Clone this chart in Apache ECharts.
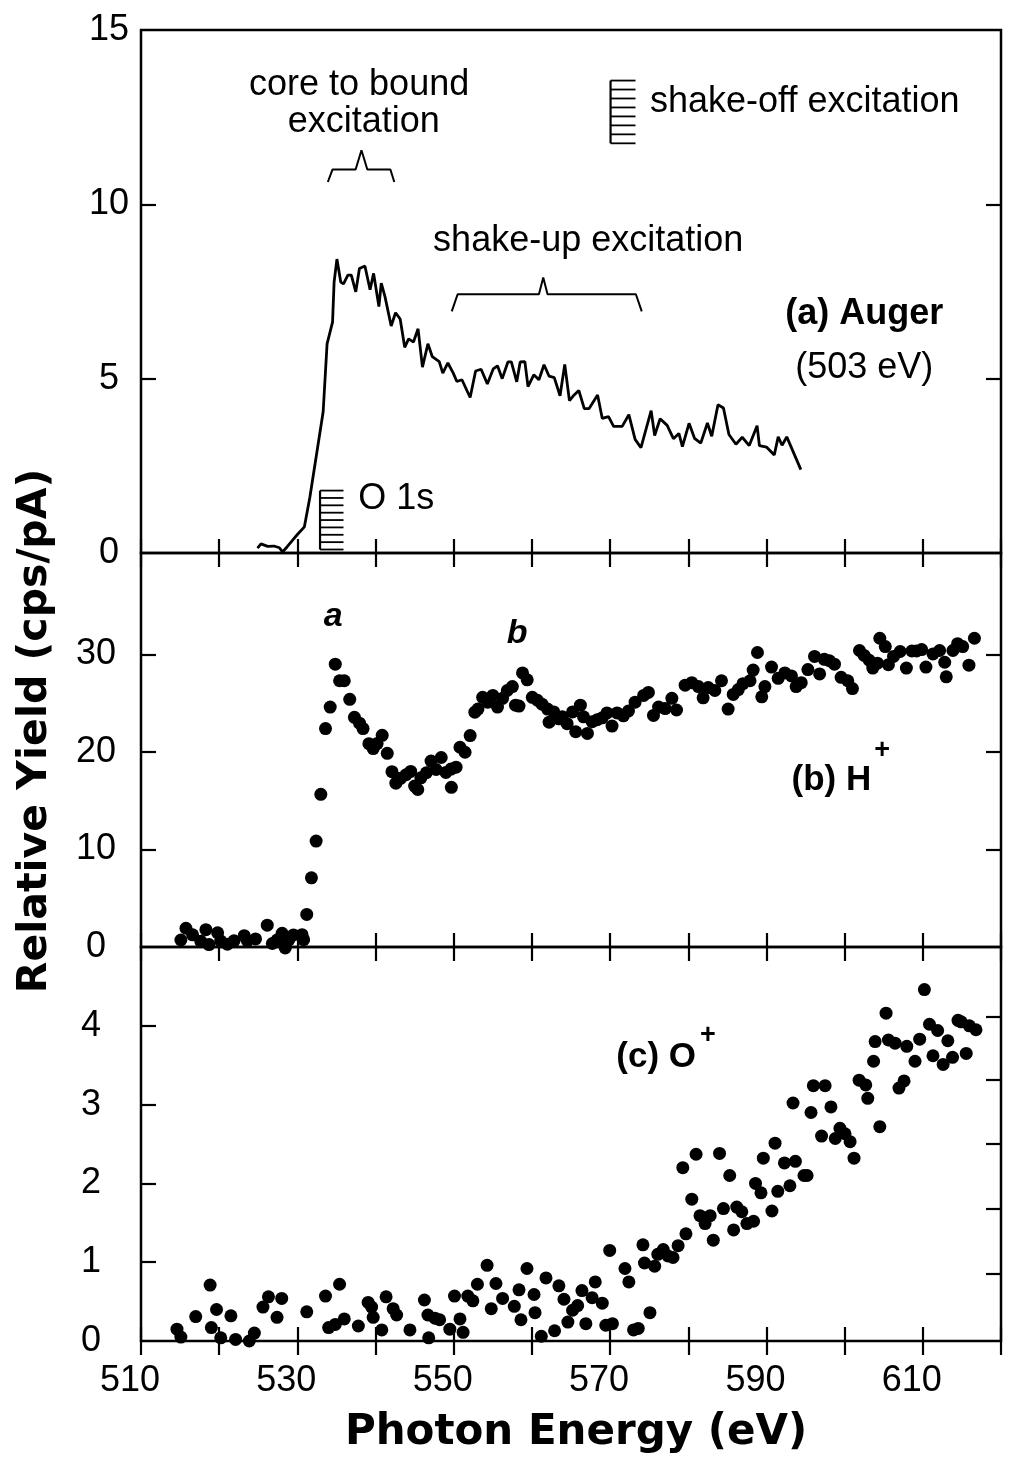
<!DOCTYPE html>
<html>
<head>
<meta charset="utf-8">
<script src="https://cdn.jsdelivr.net/npm/echarts@6/dist/echarts.min.js"></script>
<style>html,body{margin:0;padding:0;background:#fff;}#chart{width:1013px;height:1461px;}</style>
</head>
<body>
<div id="chart"></div>
<script>
// ---------- data ----------
const xTickLabels = [510, 530, 550, 570, 590, 610];
const yTicksA = [0, 5, 10, 15];
const yTicksB = [0, 10, 20, 30];
const yTicksC = [0, 1, 2, 3, 4];
const rightTicksC = [0.85, 1.68, 2.5, 3.32, 4.12];

// (a) Auger yield (line)
const augerE = [524.9,525.35,526.2,527.0,527.7,528.1,528.7,529.4,530.0,530.9,531.6,533.3,533.8,534.5,534.7,535.06,
535.55,535.9,536.46,536.9,537.47,537.94,538.64,539.3,539.75,540.43,540.73,541.2,542.0,542.56,543.15,543.73,544.23,544.85,545.44,546.0,
546.7,547.26,548.15,548.6,549.25,549.94,550.4,551.05,552.1,552.8,553.5,554.3,555.05,555.6,556.2,556.93,557.37,558.06,558.5,559.1,
559.5,560.24,560.9,561.55,562.2,562.86,563.6,564.2,564.8,565.3,566.0,566.7,567.3,568.4,569.0,569.8,570.45,571.55,572.4,573.2,
573.95,575.25,575.7,576.4,577.3,578.1,578.8,579.25,580.1,580.8,581.6,582.45,583.0,583.8,584.5,585.2,586.1,586.9,587.8,588.8,
589.1,590.0,591.0,591.5,592.0,592.6,594.4];
const augerV = [0.14,0.26,0.19,0.2,0.15,0.03,0.18,0.37,0.53,0.75,1.6,4.05,6.0,6.62,7.77,8.43,
7.77,7.72,7.97,7.97,7.49,8.16,8.23,7.55,8.02,7.07,7.74,7.36,6.51,6.89,6.71,5.9,6.14,6.05,6.43,5.33,
6.0,5.63,5.49,5.16,5.45,5.16,4.92,4.97,4.46,5.22,5.27,4.85,5.28,5.37,5.0,5.48,5.48,4.91,5.48,5.49,
4.77,5.11,4.97,5.4,5.07,5.03,4.51,5.41,4.37,4.51,4.66,4.14,4.14,4.53,3.86,3.91,3.63,3.63,3.97,3.26,
3.02,4.08,3.37,3.85,3.66,3.28,3.43,3.05,3.72,3.29,3.15,3.73,3.35,4.25,4.16,3.4,3.12,3.32,3.08,3.65,
3.08,3.04,2.81,3.33,3.09,3.33,2.39];

// (b) H+ yield (points)
const hE = [515.1,515.75,516.6,517.65,518.3,518.7,519.8,520.2,521.05,521.9,523.2,523.6,524.65,526.15,526.8,527.4,528.05,528.45,528.9,529.5,
530.6,530.8,531.2,531.8,532.4,533.0,533.6,534.2,534.85,535.4,536.0,536.7,537.3,537.95,538.4,539.15,539.7,540.2,540.85,541.5,
542.1,542.6,543.2,543.9,544.5,545.0,545.4,545.8,546.5,547.1,547.75,548.4,549.0,549.65,549.7,550.3,550.8,551.45,552.1,552.7,
553.1,553.7,554.35,555.0,555.6,556.25,556.85,557.5,557.9,558.35,558.8,559.4,560.05,560.7,561.3,562.0,562.2,562.8,563.45,563.9,
564.5,565.2,565.6,566.2,566.6,567.1,567.7,568.35,569.0,569.6,570.25,570.9,571.7,572.35,573.2,574.3,574.9,575.55,576.2,577.05,
577.9,578.5,579.6,580.45,581.3,581.9,582.55,583.4,584.25,585.1,585.75,586.4,587.0,587.9,588.3,588.85,589.4,589.8,590.65,591.5,
592.35,593.2,593.8,594.45,595.3,596.15,596.8,597.4,598.05,598.7,599.55,600.4,601.0,601.9,602.5,603.15,603.6,604.2,604.5,605.2,
605.6,606.25,607.1,607.9,608.6,609.2,609.85,610.4,611.3,612.15,612.8,613.0,613.85,614.45,615.1,615.9,616.6];
const hV = [0.72,1.92,1.25,0.58,1.78,0.25,1.46,0.61,0.28,0.64,1.16,0.65,0.83,2.24,0.36,0.71,1.4,-0.1,0.73,1.24,
1.26,0.75,3.34,7.09,10.86,15.65,22.4,24.6,29.0,27.3,27.3,25.4,23.55,22.95,22.4,20.85,20.35,20.86,21.7,19.86,
17.98,16.8,17.3,17.66,18.0,16.5,16.15,17.35,17.87,19.06,18.2,19.43,17.9,18.24,16.37,18.44,20.48,19.97,21.68,24.08,
24.4,25.6,25.1,25.8,24.6,25.5,26.3,26.7,24.8,24.7,28.1,27.4,25.6,25.3,24.9,24.4,23.05,24.1,23.4,23.6,
22.9,24.1,22.07,24.8,23.6,21.9,23.1,23.3,23.5,24.0,22.65,24.0,23.7,24.2,25.1,25.8,26.1,23.75,24.6,24.45,
25.5,24.3,26.85,27.1,26.7,25.55,26.6,26.3,27.3,24.4,25.9,26.4,27.0,27.3,28.4,30.2,25.65,26.7,28.7,27.55,
28.1,27.8,26.7,27.1,28.45,29.8,28.0,29.5,29.35,29.0,27.65,27.3,26.5,30.4,29.9,29.4,28.6,29.1,31.66,30.8,
28.95,29.8,30.3,28.6,30.35,30.35,30.5,28.7,30.05,30.4,29.2,27.7,30.4,31.1,30.8,28.9,31.66];

// (c) O+ yield (points)
const oE = [514.6,515.1,517.0,518.84,519.0,519.66,520.2,521.5,522.1,523.85,524.5,525.6,526.3,527.4,528.0,531.2,533.6,534.0,534.85,535.4,
536.0,537.8,539.05,539.5,539.7,540.8,541.35,542.25,542.7,544.4,546.25,546.7,546.8,547.6,548.2,549.5,550.1,550.8,551.2,551.8,
552.45,553.03,554.27,554.8,555.4,556.25,557.75,558.35,558.6,559.37,560.27,560.4,561.2,561.8,562.9,563.45,564.1,564.6,565.2,565.85,
566.4,566.9,567.7,568.1,569.0,569.45,569.95,570.3,571.9,572.4,573.0,573.6,574.2,574.4,575.1,575.7,576.1,576.8,577.4,578.05,
578.7,579.3,579.7,580.45,581.0,581.5,582.15,582.8,583.2,584.0,584.5,585.3,585.8,586.2,586.85,587.5,588.35,588.6,589.3,589.6,
590.7,591.1,591.45,592.3,593.0,593.4,593.7,594.8,595.2,595.7,596.0,597.05,597.5,598.25,598.8,599.4,600.05,600.7,601.2,601.85,
602.7,602.96,603.7,603.9,604.5,605.3,605.6,606.45,606.95,607.6,607.95,609.0,609.6,610.2,610.85,611.3,611.9,612.6,613.2,613.8,
614.5,614.9,615.55,615.95,616.8];
const oV = [0.15,0.05,0.31,0.71,0.17,0.4,0.04,0.32,0.02,0.0,0.1,0.43,0.56,0.3,0.54,0.37,0.57,0.17,0.21,0.72,
0.28,0.19,0.49,0.43,0.3,0.14,0.56,0.41,0.33,0.14,0.52,0.33,0.04,0.29,0.27,0.15,0.57,0.28,0.11,0.57,
0.51,0.72,0.96,0.41,0.73,0.54,0.44,0.65,0.27,0.92,0.59,0.36,0.06,0.8,0.13,0.7,0.53,0.24,0.39,0.45,
0.64,0.22,0.55,0.75,0.48,0.2,1.15,0.22,0.92,0.75,0.14,0.16,1.22,0.99,0.36,0.95,1.1,1.16,1.08,1.06,
1.21,2.2,1.36,1.8,2.37,1.59,1.49,1.59,1.28,2.38,1.68,2.1,1.41,1.7,1.64,1.49,1.52,2.0,1.88,2.32,
1.65,2.51,1.9,2.26,1.97,3.02,2.28,2.1,2.1,2.9,3.24,2.6,3.24,2.97,2.57,2.7,2.63,2.53,2.32,3.31,
3.25,3.08,3.55,3.8,2.72,4.16,3.82,3.78,3.21,3.3,3.74,3.55,3.83,4.46,4.02,3.62,3.94,3.51,3.81,3.6,
4.07,4.05,3.65,4.0,3.95];

// annotation glyphs (data coordinates of panel a)
const coreBracketE = [533.9, 534.5, 537.45, 538.2, 538.95, 541.9, 542.4];
const coreBracketV = [10.64, 11.0, 11.0, 11.55, 11.0, 11.0, 10.64];
const shakeUpBracketE = [549.75, 550.5, 560.9, 561.45, 562.0, 573.3, 574.05];
const shakeUpBracketV = [6.93, 7.42, 7.42, 7.9, 7.42, 7.42, 6.93];
// [eV left, eV right, bottom, top, number of lines]
const hatchO1s = [532.9, 535.9, 0.1, 1.79, 9];
const hatchShakeOff = [570.06, 573.25, 11.75, 13.55, 8];

// ---------- chart ----------
const zip = (a, b) => a.map((v, i) => [v, b[i]]);
const FONT = '"Liberation Sans", Arial, Helvetica, sans-serif';
const TITLE_FONT = '"DejaVu Sans", Arial, sans-serif';
const GL = 141, GW = 860;
const gridTops = [30, 553, 947];
const gridHeights = [523, 394, 394];

const chart = echarts.init(document.getElementById('chart'), null, { renderer: 'canvas' });

const grids = gridTops.map((t, i) => ({
  left: GL, width: GW, top: t, height: gridHeights[i],
  show: true, borderColor: '#000', borderWidth: 2.5, backgroundColor: 'transparent'
}));

const tickStyle = { color: '#000', width: 2.2 };
const xAxes = [];
for (let g = 0; g < 3; g++) {
  ['bottom', 'top'].forEach(pos => {
    const showLab = (g === 2 && pos === 'bottom');
    xAxes.push({
      type: 'value', gridIndex: g, position: pos, min: 510, max: 620, interval: 10,
      axisLine: { show: false },
      axisTick: { show: true, inside: true, length: 14, lineStyle: tickStyle },
      splitLine: { show: false },
      axisLabel: showLab ? {
        show: true, customValues: xTickLabels, color: '#000', fontFamily: FONT, fontSize: 36,
        margin: 22, padding: [0, 22, 0, 0]
      } : { show: false }
    });
  });
}

const yDefs = [
  { min: 0, max: 15, interval: 5, labels: yTicksA, ticks: [5, 10], rticks: [5, 10], margin: 32 },
  { min: 0, max: 40.4, interval: 10, labels: yTicksB, ticks: [10, 20, 30], rticks: [10, 20, 30], margin: 45 },
  { min: 0, max: 5, interval: 1, labels: yTicksC, ticks: [1, 2, 3, 4], rticks: rightTicksC, margin: 50 }
];
const yAxes = [];
yDefs.forEach((d, g) => {
  yAxes.push({
    type: 'value', gridIndex: g, position: 'left', min: d.min, max: d.max, interval: d.interval,
    axisLine: { show: false }, splitLine: { show: false },
    axisTick: { show: true, inside: true, length: 15, lineStyle: tickStyle, customValues: d.ticks },
    axisLabel: { show: true, customValues: d.labels, color: '#000', fontFamily: FONT, fontSize: 36,
      align: 'center', margin: d.margin }
  });
  yAxes.push({
    type: 'value', gridIndex: g, position: 'right', min: d.min, max: d.max, interval: d.interval,
    axisLine: { show: false }, splitLine: { show: false },
    axisTick: { show: true, inside: true, length: 15, lineStyle: tickStyle, customValues: d.rticks },
    axisLabel: { show: false }
  });
});

function hatchRender(params, api) {
  const x0 = api.value(0), x1 = api.value(1), y0 = api.value(2), y1 = api.value(3), n = api.value(4);
  const pb = api.coord([x0, y0]), pt = api.coord([x0, y1]), pr = api.coord([x1, y0]);
  const children = [{ type: 'line', shape: { x1: pb[0], y1: pb[1], x2: pt[0], y2: pt[1] },
    style: { stroke: '#000', lineWidth: 2.2 } }];
  for (let i = 0; i < n; i++) {
    const yy = pt[1] + (pb[1] - pt[1]) * i / (n - 1);
    children.push({ type: 'line', shape: { x1: pb[0], y1: yy, x2: pr[0], y2: yy },
      style: { stroke: '#000', lineWidth: 1.8 } });
  }
  return { type: 'group', children };
}

const option = {
  backgroundColor: '#fff',
  animation: false,
  grid: grids,
  xAxis: xAxes,
  yAxis: yAxes,
  series: [
    { name: 'Auger', type: 'line', xAxisIndex: 0, yAxisIndex: 0, data: zip(augerE, augerV),
      showSymbol: false, symbol: 'none', lineStyle: { color: '#000', width: 2.8 }, z: 3 },
    { name: 'coreBracket', type: 'line', xAxisIndex: 0, yAxisIndex: 0, data: zip(coreBracketE, coreBracketV),
      symbol: 'none', lineStyle: { color: '#000', width: 2 }, silent: true },
    { name: 'shakeUpBracket', type: 'line', xAxisIndex: 0, yAxisIndex: 0, data: zip(shakeUpBracketE, shakeUpBracketV),
      symbol: 'none', lineStyle: { color: '#000', width: 2 }, silent: true },
    { name: 'hatches', type: 'custom', xAxisIndex: 0, yAxisIndex: 0, renderItem: hatchRender,
      data: [hatchO1s, hatchShakeOff], encode: { x: [0, 1], y: [2, 3] }, silent: true, clip: false },
    { name: 'H+', type: 'scatter', xAxisIndex: 2, yAxisIndex: 2, data: zip(hE, hV),
      symbol: 'circle', symbolSize: 13, itemStyle: { color: '#000', opacity: 1 }, clip: false },
    { name: 'O+', type: 'scatter', xAxisIndex: 4, yAxisIndex: 4, data: zip(oE, oV),
      symbol: 'circle', symbolSize: 13, itemStyle: { color: '#000', opacity: 1 }, clip: false }
  ]
};
chart.setOption(option);

// text annotations anchored in data coordinates
const annotations = [
  { g: 0, x: 537.9, y: 13.43, text: 'core to bound', align: 'center', size: 36, weight: 'normal', style: 'normal' },
  { g: 0, x: 538.5, y: 12.35, text: 'excitation', align: 'center', size: 36, weight: 'normal', style: 'normal' },
  { g: 0, x: 567.2, y: 8.95, text: 'shake-up excitation', align: 'center', size: 36, weight: 'normal', style: 'normal' },
  { g: 0, x: 575.1, y: 12.94, text: 'shake-off excitation', align: 'left', size: 36, weight: 'normal', style: 'normal' },
  { g: 0, x: 537.8, y: 1.54, text: 'O 1s', align: 'left', size: 36, weight: 'normal', style: 'normal' },
  { g: 0, x: 602.5, y: 6.86, text: '(a) Auger', align: 'center', size: 36, weight: 'bold', style: 'normal' },
  { g: 0, x: 602.5, y: 5.29, text: '(503 eV)', align: 'center', size: 36, weight: 'normal', style: 'normal' },
  { g: 1, x: 534.6, y: 33.9, text: 'a', align: 'center', size: 34, weight: 'bold', style: 'italic' },
  { g: 1, x: 558.1, y: 32.1, text: 'b', align: 'center', size: 34, weight: 'bold', style: 'italic' },
  { g: 1, x: 593.2, y: 17.1, text: '(b) H', align: 'left', size: 35, weight: 'bold', style: 'normal' },
  { g: 1, x: 604.8, y: 20.1, text: '+', align: 'center', size: 27, weight: 'bold', style: 'normal' },
  { g: 2, x: 570.8, y: 3.6, text: '(c) O', align: 'left', size: 35, weight: 'bold', style: 'normal' },
  { g: 2, x: 582.5, y: 3.87, text: '+', align: 'center', size: 27, weight: 'bold', style: 'normal' }
];
const graphics = annotations.map(a => {
  const p = chart.convertToPixel({ xAxisIndex: a.g * 2, yAxisIndex: a.g * 2 }, [a.x, a.y]);
  return { type: 'text', x: p[0], y: p[1], silent: true, z: 10,
    style: { text: a.text, fill: '#000', fontFamily: FONT, fontSize: a.size, fontWeight: a.weight,
      fontStyle: a.style, align: a.align, verticalAlign: 'middle' } };
});
graphics.push({ type: 'text', x: 35, y: 731, rotation: Math.PI / 2, silent: true,
  style: { text: 'Relative Yield (cps/pA)', fill: '#000', fontFamily: TITLE_FONT, fontSize: 41, fontWeight: 'bold',
    align: 'center', verticalAlign: 'middle' } });
graphics.push({ type: 'text', x: 576, y: 1433, silent: true,
  style: { text: 'Photon Energy (eV)', fill: '#000', fontFamily: TITLE_FONT, fontSize: 42, fontWeight: 'bold',
    align: 'center', verticalAlign: 'middle' } });
chart.setOption({ graphic: graphics });
</script>
</body>
</html>
